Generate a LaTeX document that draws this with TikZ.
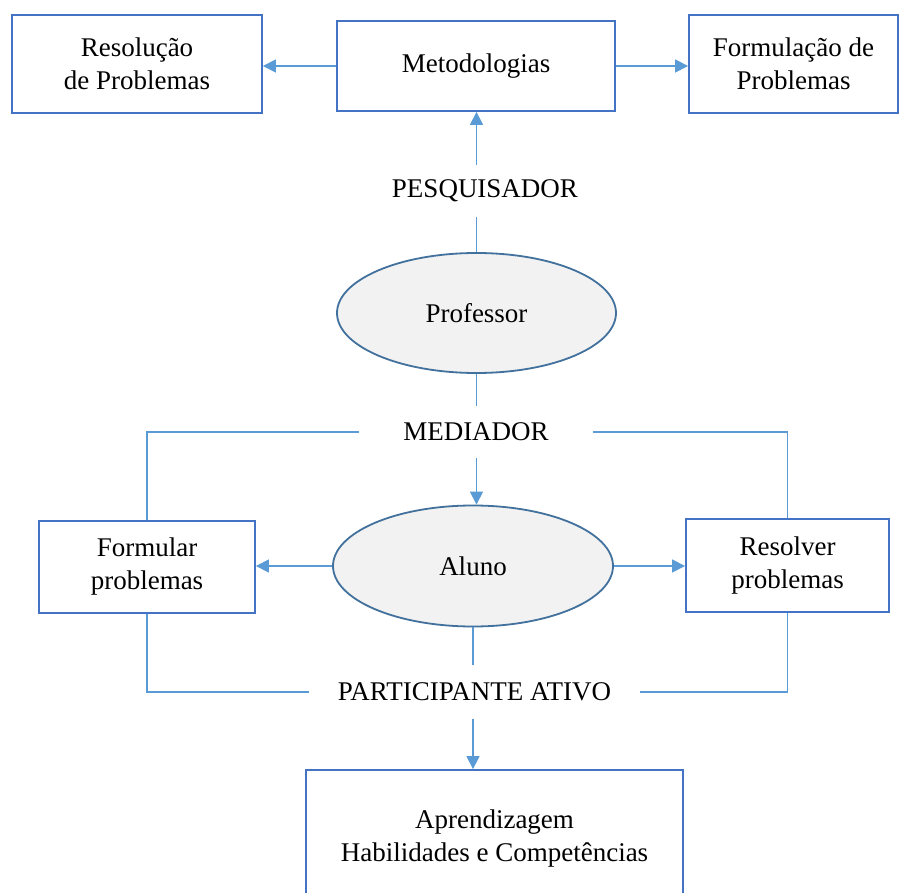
\documentclass[tikz,border=0pt]{standalone}
\usepackage{fontspec}
\setmainfont{Liberation Serif}
\usetikzlibrary{shapes.geometric,arrows.meta}
\definecolor{boxblue}{HTML}{4472C4}
\definecolor{lineblue}{HTML}{5B9BD5}
\definecolor{ellblue}{HTML}{41719C}
\definecolor{ellfill}{HTML}{F2F2F2}
\begin{document}
\begin{tikzpicture}[x=1pt,y=-1pt,
  every node/.style={font=\fontsize{27}{33}\selectfont, text=black},
  box/.style={draw=boxblue, line width=1.8pt, fill=white, rectangle, align=center, inner sep=0pt},
  ell/.style={draw=ellblue, line width=1.8pt, fill=ellfill, ellipse, inner sep=0pt},
  lbl/.style={inner sep=0pt},
  conn/.style={draw=lineblue, line width=1.2pt},
  arr/.style={conn, -{Triangle[length=13pt,width=13pt]}}
]
\useasboundingbox (0,0) rectangle (900,893);
\fill[white] (0,0) rectangle (900,893);
\begin{scope}
\clip (0,0) rectangle (900,893);
% boxes
\node[box, minimum width=250pt, minimum height=98pt] (resol) at (137,64) {Resolução\\de Problemas};
\node[box, minimum width=278pt, minimum height=90pt] (met) at (476,66) {Metodologias};
\node[box, minimum width=209pt, minimum height=98pt] (formul) at (793.5,64) {Formulação de\\Problemas};
\node[ell, minimum width=279pt, minimum height=120pt] (prof) at (476.5,313) {Professor};
\node[ell, minimum width=280pt, minimum height=121pt] (aluno) at (473,566) {Aluno};
\node[box, minimum width=216pt, minimum height=92pt] (form) at (147,567) {Formular\\problemas};
\node[box, minimum width=203pt, minimum height=93pt] (reso) at (787.5,565.5) {Resolver\\problemas};
\node[box, minimum width=377pt, minimum height=138pt] (apr) at (494.5,839) {Aprendizagem\\Habilidades e Competências};
% labels
\node[lbl, minimum width=200pt, minimum height=52pt] (pesq) at (485,191) {PESQUISADOR};
\node[lbl, minimum width=234pt, minimum height=52pt] (med) at (476,432) {MEDIADOR};
\node[lbl, minimum width=331pt, minimum height=54pt] (part) at (474.5,692) {PARTICIPANTE ATIVO};
% connectors
\draw[arr] (met.west) -- (met.west -| resol.east);
\draw[arr] (met.east) -- (met.east -| formul.west);
\draw[conn] (prof.north) -- (prof.north |- pesq.south);
\draw[arr] (prof.north |- pesq.north) -- (prof.north |- met.south);
\draw[conn] (prof.south) -- (prof.south |- med.north);
\draw[arr] (prof.south |- med.south) -- (prof.south |- aluno.north);
\draw[conn] (med.west) -| (form.north);
\draw[conn] (med.east) -| (reso.north);
\draw[arr] (aluno.west) -- (aluno.west -| form.east);
\draw[arr] (aluno.east) -- (aluno.east -| reso.west);
\draw[conn] (form.south) |- (part.west);
\draw[conn] (reso.south) |- (part.east);
\draw[conn] (aluno.south) -- (aluno.south |- part.north);
\draw[arr] (aluno.south |- part.south) -- (aluno.south |- apr.north);
\end{scope}
\end{tikzpicture}
\end{document}
